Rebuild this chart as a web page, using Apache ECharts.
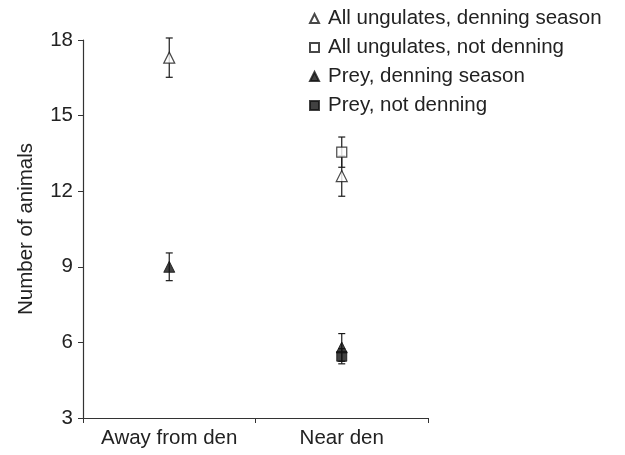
<!DOCTYPE html>
<html><head><meta charset="utf-8">
<script src="https://cdn.jsdelivr.net/npm/echarts@6/dist/echarts.min.js"></script>
<style>html,body{margin:0;padding:0;background:#fff}#c{width:625px;height:455px}</style>
</head><body><div id="c"></div>
<script>
const categories = ['Away from den', 'Near den'];
const seriesNames = ['All ungulates, denning season', 'All ungulates, not denning', 'Prey, denning season', 'Prey, not denning'];
const ungDen = [17.3, 12.6];
const ungDenErr = [0.78, 0.8];
const ungNot = [null, 13.55];
const ungNotErr = [null, 0.6];
const preyDen = [9.0, 5.8];
const preyDenErr = [0.55, 0.55];
const preyNot = [null, 5.45];
const preyNotErr = [null, 0.3];
const yTicks = [3, 6, 9, 12, 15, 18];

const chart = echarts.init(document.getElementById('c'));
const vals = [ungDen, ungNot, preyDen, preyNot];
const errs = [ungDenErr, ungNotErr, preyDenErr, preyNotErr];
const symbols = ['triangle', 'rect', 'triangle', 'rect'];
const filled = [false, false, true, true];
const font = 'Liberation Sans, Arial, sans-serif';

const errData = [];
vals.forEach((v, s) => v.forEach((y, i) => {
  if (y != null) errData.push([i, y - errs[s][i], y + errs[s][i]]);
}));

const series = [{
  type: 'custom',
  silent: true,
  z: 1,
  renderItem: function (params, api) {
    const lo = api.coord([api.value(0), api.value(1)]);
    const hi = api.coord([api.value(0), api.value(2)]);
    const x = lo[0], w = 3.5;
    const st = { stroke: '#1a1a1a', lineWidth: 1.2 };
    return { type: 'group', children: [
      { type: 'line', shape: { x1: x, y1: lo[1], x2: x, y2: hi[1] }, style: st },
      { type: 'line', shape: { x1: x - w, y1: lo[1], x2: x + w, y2: lo[1] }, style: st },
      { type: 'line', shape: { x1: x - w, y1: hi[1], x2: x + w, y2: hi[1] }, style: st }
    ]};
  },
  data: errData
}];
vals.forEach((v, s) => {
  series.push({
    name: seriesNames[s],
    type: 'scatter',
    z: 3,
    symbol: symbols[s],
    symbolSize: symbols[s] === 'triangle' ? [11, 11] : [10, 10],
    itemStyle: filled[s] ? { color: '#111', borderColor: '#111', borderWidth: 1 } : { color: '#fff', borderColor: '#1a1a1a', borderWidth: 1.2 },
    data: v.map((y, i) => y == null ? null : [i, y])
  });
});

chart.setOption({
  animation: false,
  backgroundColor: '#fff',
  grid: { left: 83, right: 197, top: 40, bottom: 37, containLabel: false },
  legend: {
    orient: 'vertical', left: 304, top: 3,
    itemWidth: 9, itemHeight: 9, itemGap: 8,
    data: seriesNames,
    textStyle: { fontFamily: font, fontSize: 20.5, color: '#222', padding: [0, 0, 0, 4] }
  },
  xAxis: {
    type: 'category', data: categories, boundaryGap: true,
    axisLine: { lineStyle: { color: '#333', width: 1.2 } },
    axisTick: { show: true, interval: 0, length: 5, inside: false, lineStyle: { color: '#333' } },
    axisLabel: { interval: 0, fontFamily: font, fontSize: 20.5, color: '#222', margin: 10 }
  },
  yAxis: {
    type: 'value', min: yTicks[0], max: yTicks[yTicks.length - 1], interval: 3,
    name: 'Number of animals', nameLocation: 'middle', nameGap: 46,
    nameTextStyle: { fontFamily: font, fontSize: 20.5, color: '#222' },
    axisLine: { show: true, lineStyle: { color: '#333', width: 1.2 } },
    axisTick: { show: true, length: 5, lineStyle: { color: '#333' } },
    axisLabel: { fontFamily: font, fontSize: 20.5, color: '#222', margin: 10 },
    splitLine: { show: false }
  },
  series: series
});
</script></body></html>
